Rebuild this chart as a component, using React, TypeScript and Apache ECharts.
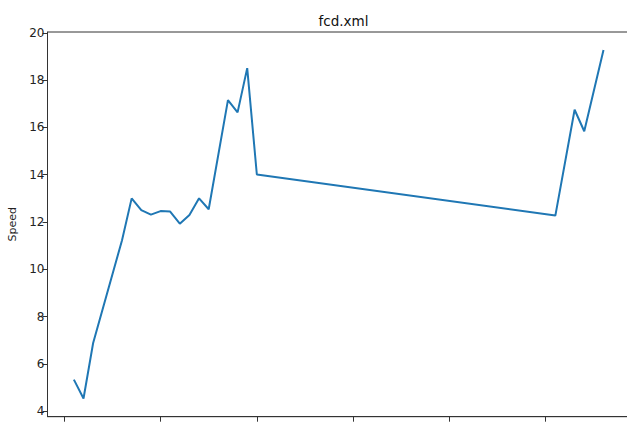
import React, { useEffect, useRef } from "react";
import * as echarts from "echarts";

const times = [10, 20, 30, 60, 70, 80, 90, 100, 110, 120, 130, 140, 150, 170, 180, 190, 200, 510, 530, 540, 560];
const speeds = [5.33, 4.53, 6.88, 11.23, 13.0, 12.5, 12.31, 12.46, 12.44, 11.93, 12.3, 13.0, 12.54, 17.16, 16.64, 18.51, 14.01, 12.27, 16.75, 15.84, 19.28];
const xTicks = [0, 100, 200, 300, 400, 500];
const yTicks = [4, 6, 8, 10, 12, 14, 16, 18, 20];
const titleText = "fcd.xml";
const yName = "Speed";

export default function App() {
  const ref = useRef<HTMLDivElement>(null);
  useEffect(() => {
    if (!ref.current) return;
    const chart = echarts.init(ref.current, undefined, { renderer: "svg" });
    const font = "'DejaVu Sans', sans-serif";
    chart.setOption({
      animation: false,
      backgroundColor: "#ffffff",
      title: {
        text: titleText,
        left: 338.5,
        textAlign: "center",
        top: 9,
        textStyle: { fontFamily: font, fontSize: 13.5, fontWeight: "normal", color: "#111" },
      },
      grid: {
        left: 47.5,
        top: 32,
        width: 582,
        height: 384.7,
        outerBoundsMode: "none",
        containLabel: false,
        show: true,
        borderColor: "#333",
        borderWidth: 1,
        backgroundColor: "transparent",
      },
      xAxis: {
        type: "value",
        min: -17.4,
        max: 587,
        axisLine: { show: true, onZero: false, lineStyle: { color: "#333", width: 1 } },
        axisTick: { show: true, customValues: xTicks, length: 5, lineStyle: { color: "#333" } },
        axisLabel: { show: false },
        splitLine: { show: false },
      },
      yAxis: {
        type: "value",
        min: 3.76,
        max: 20.04,
        name: yName,
        nameLocation: "middle",
        nameRotate: 90,
        nameGap: 30,
        nameTextStyle: { fontFamily: font, fontSize: 11, color: "#222" },
        axisLine: { show: true, onZero: false, lineStyle: { color: "#333", width: 1 } },
        axisTick: { show: true, customValues: yTicks, length: 5, lineStyle: { color: "#333" } },
        axisLabel: { customValues: yTicks, fontFamily: font, fontSize: 12, color: "#222", margin: 3 },
        splitLine: { show: false },
      },
      series: [
        {
          type: "line",
          data: times.map((t, i) => [t, speeds[i]]),
          showSymbol: false,
          lineStyle: { color: "#1f77b4", width: 2 },
          itemStyle: { color: "#1f77b4" },
        },
      ],
    });
    return () => chart.dispose();
  }, []);
  return <div ref={ref} style={{ position: "fixed", left: 0, top: 0, width: 627, height: 424 }} />;
}
